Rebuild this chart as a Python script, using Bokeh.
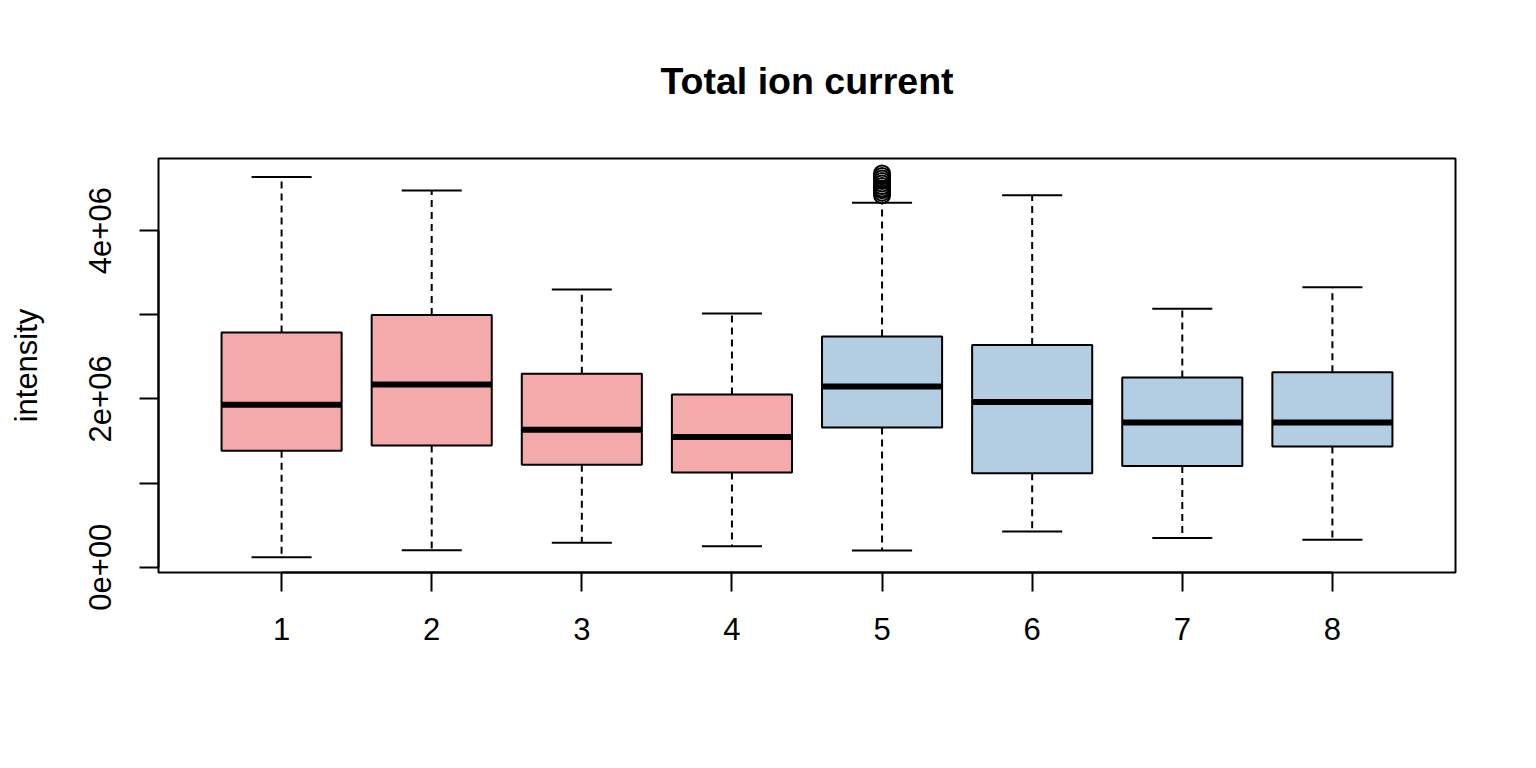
import numpy as np
from bokeh.plotting import figure
from bokeh.models import FixedTicker, Range1d
from bokeh.embed import file_html
from bokeh.resources import INLINE

# ---- data ----
samples = [1, 2, 3, 4, 5, 6, 7, 8]
whisker_low = [0.119e6, 0.200e6, 0.289e6, 0.249e6, 0.198e6, 0.423e6, 0.348e6, 0.325e6]
q1 = [1.383e6, 1.446e6, 1.217e6, 1.126e6, 1.660e6, 1.115e6, 1.202e6, 1.435e6]
median = [1.930e6, 2.170e6, 1.632e6, 1.546e6, 2.146e6, 1.964e6, 1.719e6, 1.719e6]
q3 = [2.790e6, 2.996e6, 2.300e6, 2.051e6, 2.740e6, 2.640e6, 2.253e6, 2.316e6]
whisker_high = [4.636e6, 4.478e6, 3.300e6, 3.016e6, 4.330e6, 4.419e6, 3.071e6, 3.328e6]
groups = ["A", "A", "A", "A", "B", "B", "B", "B"]
outlier_sample = [5, 5, 5, 5, 5, 5, 5, 5, 5, 5]
outlier_value = [4.42e6, 4.45e6, 4.48e6, 4.50e6, 4.53e6, 4.56e6, 4.59e6, 4.62e6, 4.65e6, 4.68e6]
y_ticks = [0, 1e6, 2e6, 3e6, 4e6]
y_tick_labels = ["0e+00", "", "2e+06", "", "4e+06"]
group_colors = {"A": "#F4A9AA", "B": "#B3CDE3"}

FONT = "Liberation Sans"

xs = np.array(samples, dtype=float)
box_w = 0.8
cap_w = 0.4
colors = [group_colors[g] for g in groups]

p = figure(width=1530, height=760, output_backend="svg", toolbar_location=None,
           x_range=Range1d(0.18, 8.82), y_range=Range1d(-0.0635e6, 4.857e6),
           min_border_left=158, min_border_right=75, min_border_top=157, min_border_bottom=188)

p.background_fill_color = "white"
p.border_fill_color = "white"
p.xgrid.visible = False
p.ygrid.visible = False
p.outline_line_color = "black"
p.outline_line_width = 2
p.outline_line_alpha = 1

# title
p.title.text = "Total ion current"
p.title.align = "center"
p.title.text_font = FONT
p.title.text_font_size = "37.5px"
p.title.text_font_style = "bold"
p.title.text_color = "black"
p.title.standoff = 114

# whiskers (dashed)
p.segment(x0=xs, x1=xs, y0=q3, y1=whisker_high, line_color="black", line_width=2, line_dash="7 5")
p.segment(x0=xs, x1=xs, y0=q1, y1=whisker_low, line_color="black", line_width=2, line_dash="7 5")
# caps
p.segment(x0=xs - cap_w / 2, x1=xs + cap_w / 2, y0=whisker_high, y1=whisker_high, line_color="black", line_width=2)
p.segment(x0=xs - cap_w / 2, x1=xs + cap_w / 2, y0=whisker_low, y1=whisker_low, line_color="black", line_width=2)
# boxes
p.vbar(x=xs, width=box_w, bottom=q1, top=q3, fill_color=colors, line_color="black", line_width=2)
# medians
p.segment(x0=xs - box_w / 2, x1=xs + box_w / 2, y0=median, y1=median, line_color="black", line_width=6)
# outliers
p.scatter(x=outlier_sample, y=outlier_value, marker="circle", size=16, fill_color=None,
          line_color="black", line_width=2)

# axes
for ax in (p.xaxis[0], p.yaxis[0]):
    ax.axis_line_width = 2
    ax.major_tick_line_width = 2
    ax.major_tick_out = 19
    ax.major_tick_in = 0
    ax.minor_tick_out = 0
    ax.minor_tick_in = 0
    ax.major_label_text_font = FONT
    ax.major_label_text_font_size = "31px"
    ax.major_label_text_color = "black"
    ax.axis_line_color = "black"
    ax.major_tick_line_color = "black"

p.xaxis.ticker = FixedTicker(ticks=samples)
p.xaxis.bounds = (samples[0], samples[-1])
p.xaxis.major_label_standoff = 26

p.yaxis.ticker = FixedTicker(ticks=y_ticks)
p.yaxis.major_label_overrides = {t: l for t, l in zip(y_ticks, y_tick_labels)}
p.yaxis.bounds = (y_ticks[0], y_ticks[-1])
p.yaxis.major_label_orientation = "parallel"
p.yaxis.major_label_standoff = 28
p.yaxis.axis_label = "intensity"
p.yaxis.axis_label_text_font = FONT
p.yaxis.axis_label_text_font_size = "31px"
p.yaxis.axis_label_text_font_style = "normal"
p.yaxis.axis_label_text_color = "black"
p.yaxis.axis_label_standoff = 43

open("out.html", "w").write(file_html(p, INLINE))
